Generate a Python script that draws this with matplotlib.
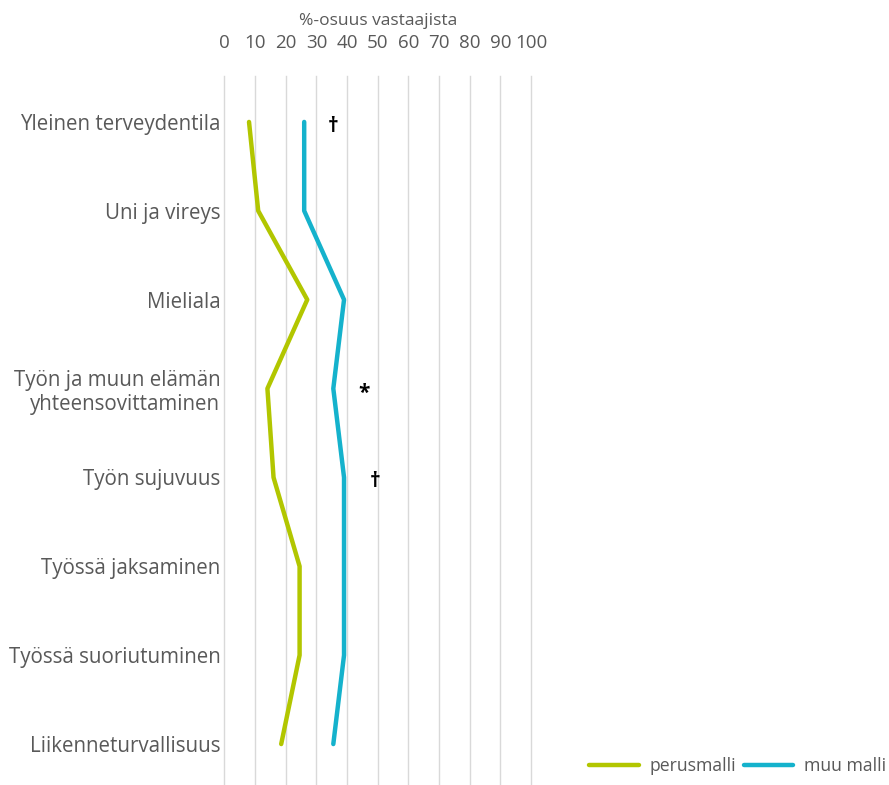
import matplotlib.pyplot as plt

categories = [
    'Yleinen terveydentila',
    'Uni ja vireys',
    'Mieliala',
    'Työn ja muun elämän\nyhteensovittaminen',
    'Työn sujuvuus',
    'Työssä jaksaminen',
    'Työssä suoriutuminen',
    'Liikenneturvallisuus',
]
perusmalli = [8, 11, 27, 14, 16, 24.5, 24.5, 18.5]
muu_malli = [26, 26, 39, 35.5, 39, 39, 39, 35.5]

# significance markers: (category index, x position, symbol)
markers = [(0, 35.5, '†'), (3, 45.5, '*'), (4, 49, '†')]

green = '#b2c600'
blue = '#15b2cc'
grey = '#595959'

plt.rcParams['font.family'] = ['Open Sans', 'DejaVu Sans']

fig = plt.figure(figsize=(8.89, 7.85), dpi=100)
ax = fig.add_axes([224.5 / 889, 0.0, (531 - 224.5) / 889, 1 - 76 / 785])

y = list(range(len(categories)))
ax.plot(perusmalli, y, color=green, lw=3.2, solid_capstyle='round', label='perusmalli')
ax.plot(muu_malli, y, color=blue, lw=3.2, solid_capstyle='round', label='muu malli')

for i, xpos, sym in markers:
    ax.text(xpos, i + 0.05, sym, ha='center', va='center', fontsize=15,
            fontweight='bold', color='black')

ax.set_xlim(0, 100)
ax.set_ylim(7 + 41 / 89, -46 / 89)
ax.set_xticks(range(0, 101, 10))
ax.xaxis.tick_top()
ax.xaxis.set_label_position('top')
ax.set_xlabel('%-osuus vastaajista', fontsize=12.5, color=grey, labelpad=7)
ax.tick_params(axis='x', length=0, pad=17, labelsize=13.5, labelcolor=grey)
ax.set_yticks(y)
ax.set_yticklabels(categories, ha='right', multialignment='right')
ax.tick_params(axis='y', length=0, pad=3, labelsize=14.8, labelcolor=grey)

ax.grid(axis='x', color='#d9d9d9', lw=1)
for gl in ax.get_xgridlines():
    gl.set_clip_on(False)
ax.set_axisbelow(True)
for s in ax.spines.values():
    s.set_visible(False)

fig.legend(loc='lower right', bbox_to_anchor=(1.015, -0.008), ncol=2, frameon=False,
           fontsize=12.7, labelcolor=grey, handlelength=2.8, handletextpad=0.62,
           columnspacing=0.45)

fig.savefig('out.png', dpi=100)
